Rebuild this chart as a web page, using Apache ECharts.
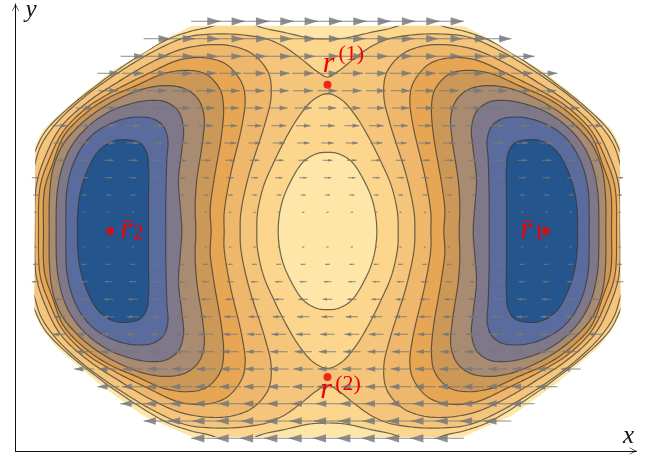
<!DOCTYPE html>
<html><head><meta charset="utf-8">
<style>html,body{margin:0;padding:0;background:#fff}#c{width:646px;height:458px}</style>
<script src="https://cdn.jsdelivr.net/npm/echarts@6/dist/echarts.min.js"></script>
</head><body><div id="c"></div>
<script>
// Contours, as quarter arcs [distance from the vertical centre line, height above the horizontal centre line]
const hullTop=[[409,616],[482,579],[552,534],[642,484],[732,414],[812,344],[852,305],[877,259]];
const hullBottom=[[879,-250],[852,-300],[812,-350],[752,-402],[682,-462],[552,-555],[407,-618]];
const ringOuter=[[0,576],[52,579],[122,594],[212,616],[252,644],[292,644],[342,616],[412,599],[482,574],[582,515],[682,445],[782,365],[847,298],[877,240],[920,120],[920,0]];
const ringNotch=[[0,462],[32,479],[82,519],[132,554],[182,576],[262,589],[342,591],[422,582],[502,549],[582,504],[662,452],[742,392],[812,325],[857,262],[877,204],[900,100],[900,0]];
const eye=[[0,412],[42,394],[82,349],[122,284],[162,204],[192,134],[210,54],[212,0]];
const core=[[0,236],[32,232],[72,208],[110,150],[137,84],[148,0]];
const lobe3=[[262,0],[260,54],[237,164],[187,324],[169,404],[177,474],[222,529],[282,554],[352,559],[442,544],[532,504],[632,445],[722,385],[802,309],[850,215],[874,134],[878,0]];
const lobe4=[[310,0],[310,54],[292,164],[257,314],[247,394],[257,444],[302,499],[362,519],[442,514],[542,470],[632,425],[722,370],[792,300],[837,210],[862,134],[867,0]];
const lobe5=[[349,0],[352,64],[342,144],[317,294],[312,374],[322,424],[362,469],[417,482],[492,472],[572,437],[662,397],[732,348],[792,284],[825,200],[849,124],[852,0]];
const lobe6=[[395,0],[397,74],[392,154],[374,274],[370,344],[387,394],[422,424],[472,436],[542,429],[622,399],[692,359],[752,309],[797,254],[824,184],[834,104],[835,0]];
const lobe7=[[437,0],[442,74],[447,154],[437,244],[432,309],[447,359],[482,386],[522,392],[582,384],[652,359],[712,319],[762,264],[792,204],[810,124],[814,54],[814,0]];
const lobe8=[[485,0],[485,94],[482,214],[479,274],[492,314],[522,336],[562,342],[612,336],[672,312],[722,272],[762,204],[782,124],[785,54],[785,0]];
const lobe9=[[537,0],[537,94],[537,194],[542,234],[562,264],[602,274],[642,270],[685,242],[717,190],[742,114],[750,44],[750,0]];
// Quiver rows
const arrowRowV=[629,577,524,473,421,369,316,264,212,160,108,56,-48,-100,-152,-205,-257,-310,-362,-414,-467,-518,-570,-622];
const arrowRowU=[88,81,74,66,59,52,44,37,29,22,15,7,-7,-15,-22,-29,-37,-44,-52,-59,-66,-74,-81,-88];
const arrowRowReach=[5,7,8,9,9,10,11,11,11,12,12,12,12,12,12,11,11,11,10,10,9,8,7,5];
const arrowColumnStep=73;
// Marked points
const markedPoints=[[0,439],[0,-438],[-652,0],[655,0]];
const labelTexts=['r','(1)','r','(2)','r\u0304','2','r\u0304','1'];
const labelX=[-14,33,-22,23,-622,-584,578,618];
const labelY=[456,496,-523,-493,-43,-41,-43,-41];
const labelSizes=[30,22,30,22,30,22,30,22];
const colors=['#FEE6A9','#FCD68C','#F5C57C','#EFB76C','#E7A654','#CC9858','#A88B70','#7F788A','#5A6B9E','#25558D'];

const ring=a=>{
  const n=a.length;
  const out=a.map(p=>[p[0],p[1]]);
  for(let i=n-2;i>=0;i--) out.push([a[i][0],-a[i][1]]);
  for(let i=1;i<n;i++) out.push([-a[i][0],-a[i][1]]);
  for(let i=n-2;i>=1;i--) out.push([-a[i][0],a[i][1]]);
  return out;
};
const lobe=(a,s)=>a.map(p=>[s*p[0],p[1]]).concat(a.slice(1,-1).reverse().map(p=>[s*p[0],-p[1]]));
const hull=hullTop.map(p=>[-p[0],p[1]]).concat(hullBottom.map(p=>[-p[0],p[1]]),hullBottom.slice().reverse(),hullTop.slice().reverse());
// centripetal Catmull-Rom outline through a closed list of pixel points
function spline(P){
  const n=P.length,out=[];
  const d=(a,b)=>Math.pow(Math.hypot(a[0]-b[0],a[1]-b[1]),0.5)||1e-3;
  for(let i=0;i<n;i++){
    const p0=P[(i-1+n)%n],p1=P[i],p2=P[(i+1)%n],p3=P[(i+2)%n];
    const t01=d(p0,p1),t12=d(p1,p2),t23=d(p2,p3);
    const m1=[0,1].map(k=>p2[k]-p1[k]+t12*((p1[k]-p0[k])/t01-(p2[k]-p0[k])/(t01+t12)));
    const m2=[0,1].map(k=>p2[k]-p1[k]+t12*((p3[k]-p2[k])/t23-(p3[k]-p1[k])/(t12+t23)));
    for(let s=0;s<8;s++){
      const t=s/8,t2=t*t,t3=t2*t;
      out.push([0,1].map(k=>(2*t3-3*t2+1)*p1[k]+(t3-2*t2+t)*m1[k]+(-2*t3+3*t2)*p2[k]+(t3-t2)*m2[k]));
    }
  }
  return out;
}
const polys=[
 {pts:hull,fill:colors[0],line:false,plain:true},
 {pts:ring(ringOuter),fill:colors[1]},
 {pts:ring(ringNotch),fill:colors[2]},
 {pts:ring(eye),fill:colors[1]},
 {pts:ring(core),fill:colors[0]}
];
[lobe3,lobe4,lobe5,lobe6,lobe7,lobe8,lobe9].forEach((a,i)=>{
  polys.push({pts:lobe(a,-1),fill:colors[i+3]});
  polys.push({pts:lobe(a,1),fill:colors[i+3]});
});
const arrows=[];
arrowRowV.forEach((v,r)=>{
  for(let m=-arrowRowReach[r];m<=arrowRowReach[r];m++) arrows.push([m*arrowColumnStep,v,arrowRowU[r]]);
});

const chart=echarts.init(document.getElementById('c'),null,{renderer:'canvas'});
const axisCommon={type:'value',splitLine:{show:false},axisTick:{show:false},axisLabel:{show:false},
  nameTextStyle:{fontFamily:'Liberation Serif',fontStyle:'italic',fontSize:25,color:'#111'}};
const chevron='path://M0,10 L5,0 L10,10 L9.2,10 L5,2.2 L.8,10 Z';
const axisLine={onZero:false,symbol:['none',chevron],symbolSize:[9,7],symbolOffset:[0,-3.5],lineStyle:{color:'#111',width:1}};
chart.setOption({
  animation:false,
  backgroundColor:'#fff',
  grid:{left:15.5,top:4,width:621,height:447,outerBoundsMode:'none'},
  xAxis:Object.assign({},axisCommon,{min:-936,max:927,name:'x',nameLocation:'end',nameGap:-8,
    nameTextStyle:Object.assign({},axisCommon.nameTextStyle,{align:'center',verticalAlign:'bottom',padding:[0,0,2,0]}),
    axisLine}),
  yAxis:Object.assign({},axisCommon,{min:-660,max:681,name:'y',nameLocation:'end',nameGap:-6,
    nameTextStyle:Object.assign({},axisCommon.nameTextStyle,{align:'left',verticalAlign:'middle',padding:[0,0,0,10]}),
    axisLine}),
  series:[
    {type:'custom',coordinateSystem:'cartesian2d',clip:false,silent:true,z:2,
     data:polys.map((p,i)=>[i,0]),
     renderItem:(params,api)=>{
       const p=polys[api.value(0)];
       const px=p.pts.map(q=>api.coord(q));
       return {type:'polygon',
         shape:{points:p.plain?px:spline(px)},
         style:{fill:p.fill,stroke:p.line===false?null:'rgba(55,52,48,0.72)',lineWidth:1.2},
         clipPath:{type:'polygon',shape:{points:hull.map(q=>api.coord(q))}}};
     }},
    {type:'custom',coordinateSystem:'cartesian2d',clip:false,silent:true,z:3,
     data:arrows,
     renderItem:(params,api)=>{
       const x=api.value(0),y=api.value(1),u=api.value(2);
       const tail=api.coord([x-u/2,y]),tip=api.coord([x+u/2,y]);
       const back=x+u/2-0.45*u,w=Math.abs(u)*0.14;
       return {type:'group',children:[
         {type:'line',shape:{x1:tail[0],y1:tail[1],x2:tip[0],y2:tip[1]},style:{stroke:'rgba(120,120,120,0.65)',lineWidth:1.3}},
         {type:'polygon',shape:{points:[tip,api.coord([back,y+w]),api.coord([back,y-w])]},style:{fill:'rgba(120,120,120,0.82)'}}
       ]};
     }},
    {type:'custom',coordinateSystem:'cartesian2d',clip:false,silent:true,z:4,
     data:labelTexts.map((t,i)=>[labelX[i],labelY[i],i]),
     renderItem:(params,api)=>{
       const i=api.value(2),c=api.coord([api.value(0),api.value(1)]);
       const up=labelSizes[i]===30;
       return {type:'text',x:c[0],y:c[1],style:{text:labelTexts[i],fill:'#f00000',
         font:(up?'italic ':'')+labelSizes[i]+'px "Liberation Serif"',align:'left',verticalAlign:'bottom'}};
     }},
    {type:'scatter',z:5,symbol:'circle',symbolSize:8,silent:true,clip:false,
     itemStyle:{color:'#f00000'},data:markedPoints}
  ]
});
</script></body></html>
